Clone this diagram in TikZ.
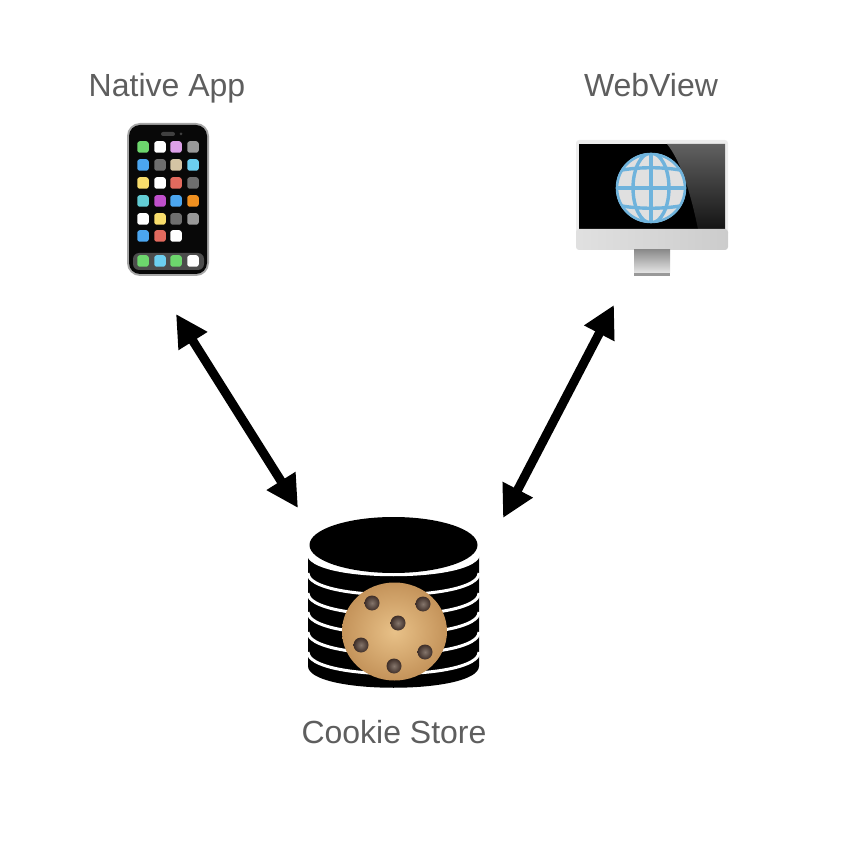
\documentclass[tikz,border=0pt]{standalone}
\usepackage{fontspec}
\setmainfont{Liberation Sans}
\usepackage{tikz}
\usetikzlibrary{arrows.meta}
\definecolor{labelgray}{HTML}{5E5E5E}
\definecolor{appgreen}{HTML}{6DD66D}
\definecolor{appblue}{HTML}{4BA6F0}
\definecolor{appsky}{HTML}{6CCFF0}
\definecolor{applilac}{HTML}{DDA0E8}
\definecolor{appgray}{HTML}{999999}
\definecolor{appdark}{HTML}{6E6E6E}
\definecolor{appsand}{HTML}{D4C4A4}
\definecolor{appyellow}{HTML}{F8DD6C}
\definecolor{appred}{HTML}{E26A5E}
\definecolor{appteal}{HTML}{62CCD4}
\definecolor{apppurple}{HTML}{C04FCB}
\definecolor{apporange}{HTML}{F09020}
\definecolor{globeblue}{HTML}{6FB3DC}
\definecolor{cookiemid}{HTML}{E8C188}
\definecolor{cookieedge}{HTML}{C4935A}
\definecolor{chipdark}{HTML}{3E2E28}
\definecolor{chiplight}{HTML}{85766C}
\tikzstyle{label} = [text=labelgray, font=\fontsize{32}{36}\selectfont, inner sep=0pt, anchor=base]
\tikzstyle{appicon} = [rounded corners=2.5pt, minimum size=11.5pt, inner sep=0pt]
\tikzstyle{arrow} = [line width=9pt,{Triangle[length=32pt,width=32pt]}-{Triangle[length=32pt,width=32pt]}]
\tikzstyle{band} = [white, line width=3pt]
\begin{document}
\begin{tikzpicture}[x=1pt,y=-1pt]
        \useasboundingbox (0,0) rectangle (844,842);
        % labels
        \node (applabel) [label] at (167,97) {Native App};
        \node (weblabel) [label] at (651,97) {WebView};
        \node (storelabel) [label] at (394,743) {Cookie Store};
        % phone
        \fill [black!35, rounded corners=13pt] (127,123) rectangle (209,276);
        \fill [black!97, rounded corners=11pt] (129,125) rectangle (207,274);
        \fill [black!75, rounded corners=2pt] (161,132) rectangle (175,136);
        \fill [black!75] (181,134) circle (1.5pt);
        \fill [black!70, rounded corners=6pt] (133,253) rectangle (204,270);
        \foreach \appx/\appy/\appcol in {143/147/appgreen,160/147/white,176/147/applilac,193/147/appgray,
            143/165/appblue,160/165/appdark,176/165/appsand,193/165/appsky,
            143/183/appyellow,160/183/white,176/183/appred,193/183/appdark,
            143/201/appteal,160/201/apppurple,176/201/appblue,193/201/apporange,
            143/219/white,160/219/appyellow,176/219/appdark,193/219/appgray,
            143/236/appblue,160/236/appred,176/236/white,
            143/261/appgreen,160/261/appsky,176/261/appgreen,193/261/white}
            \node [appicon, fill=\appcol] at (\appx,\appy) {};
        % monitor
        \fill [black!7, rounded corners=3pt] (576,140) rectangle (728,236);
        \fill [black] (579,144) rectangle (725,229);
        \shade [top color=black!62, bottom color=black!92] (667,144) -- (725,144) -- (725,229) -- (698,229) .. controls (690,190) and (680,160) .. cycle;
        \shade [left color=black!12, right color=black!20, rounded corners=3pt] (576,229) rectangle (728,250);
        \shade [top color=black!45, bottom color=black!10] (634,250) rectangle (670,273);
        \fill [black!40] (634,273) rectangle (670,276);
        % globe
        \fill [black!12] (651,188) circle (35pt);
        \begin{scope}
            \clip (651,188) circle (35pt);
            \draw [globeblue, line width=3.4pt] (651,153) -- (651,223);
            \draw [globeblue, line width=3.4pt] (651,188) ellipse [x radius=18, y radius=35];
            \draw [globeblue, line width=3.4pt] (616,188) -- (686,188);
            \draw [globeblue, line width=3.4pt] (622,170) .. controls (640,167) and (662,167) .. (680,170);
            \draw [globeblue, line width=3.4pt] (622,206) .. controls (640,209) and (662,209) .. (680,206);
        \end{scope}
        \draw [globeblue, line width=2.6pt] (651,188) circle (34pt);
        % store
        \fill [black] (308,553) .. controls (308,582) and (479,582) .. (479,553) -- (479,666) .. controls (479,695) and (308,695) .. (308,666) -- cycle;
        \foreach \bandy in {553,573,593,612,632,652}
            \draw [band] (308,\bandy) .. controls (308,\bandy+29) and (479,\bandy+29) .. (479,\bandy);
        \fill [black] (393.5,545) ellipse [x radius=84, y radius=28];
        % cookie
        \shade [inner color=cookiemid, outer color=cookieedge] (394.5,631.5) ellipse [x radius=52.5, y radius=49];
        \foreach \chipx/\chipy in {372/603,423/604,398/623,361/645,425/652,394/666}
            \shade [inner color=chiplight, outer color=chipdark] (\chipx,\chipy) circle (7.5pt);
        % connectors
        \coordinate (appport) at (176,314);
        \coordinate (webport) at (614,305);
        \coordinate (storeleft) at (298,508);
        \coordinate (storeright) at (503,518);
        \draw [arrow] (appport) -- (storeleft);
        \draw [arrow] (webport) -- (storeright);
\end{tikzpicture}
\end{document}
